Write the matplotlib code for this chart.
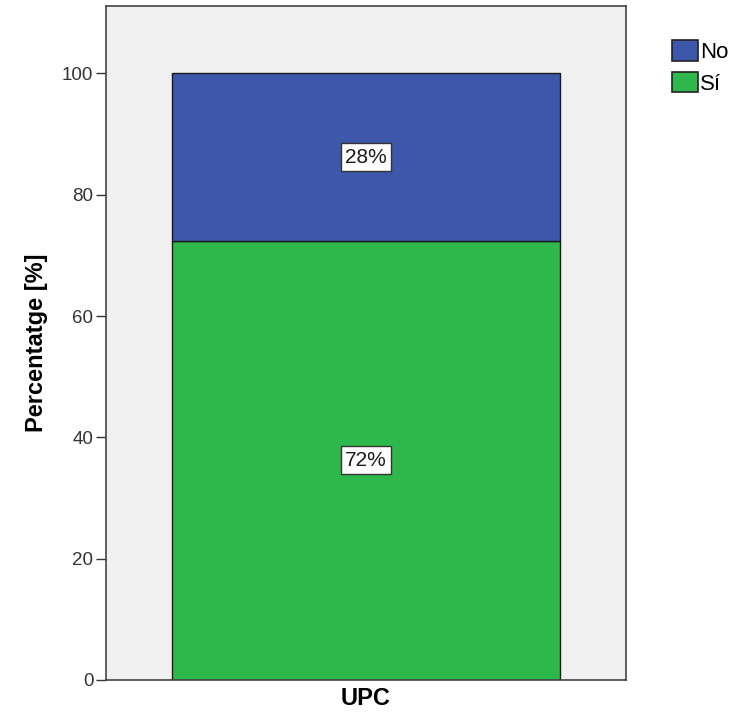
import matplotlib
matplotlib.use("Agg")
import matplotlib.pyplot as plt
from matplotlib.patches import Patch

plt.rcParams['font.family'] = ['Liberation Sans', 'DejaVu Sans']

# dades
group = ["UPC"]
categories = ["Sí", "No"]
values = [72.4, 27.6]
labels = ["72%", "28%"]
colors = ["#2EB84B", "#3D57AA"]
yticks = [0, 20, 40, 60, 80, 100]

fig = plt.figure(figsize=(7.39, 7.16), dpi=100)
ax = fig.add_axes([106 / 739, 36 / 716, 520 / 739, 674 / 716])
ax.set_facecolor("#F0F0F0")

bottom = 0
for cat, val, lab, col in zip(categories, values, labels, colors):
    ax.bar(0, val, width=1.0, bottom=bottom, color=col, edgecolor="#1a1a1a",
           linewidth=1.0, label=cat)
    ax.text(0, bottom + val / 2, lab, ha="center", va="center", fontsize=15,
            color="#1a1a1a",
            bbox=dict(boxstyle="square,pad=0.22", facecolor="white",
                      edgecolor="#333333", linewidth=1.0))
    bottom += val

ax.set_xlim(-0.67, 0.67)
ax.set_ylim(0, 111.1)
ax.set_yticks(yticks)
ax.set_yticklabels([str(t) for t in yticks], fontsize=13.5, color="#333333")
ax.set_xticks([0])
ax.set_xticklabels(group, fontsize=17, fontweight="bold")
ax.tick_params(axis="x", length=0, pad=5)
ax.tick_params(axis="y", length=7, width=1, color="#333333", direction="out", pad=2)
ax.set_ylabel("Percentatge [%]", fontsize=17, fontweight="bold", labelpad=10)

for s in ax.spines.values():
    s.set_color("#444444")
    s.set_linewidth(1.2)

handles = [Patch(facecolor=colors[1], edgecolor="#222222", linewidth=1.2),
           Patch(facecolor=colors[0], edgecolor="#222222", linewidth=1.2)]
fig.legend(handles, ["No", "Sí"], loc="upper left",
           bbox_to_anchor=(672 / 739, 1 - 40 / 716), frameon=False,
           fontsize=16, handlelength=1.15, handleheight=1.05,
           handletextpad=0.12, labelspacing=0.4, borderpad=0, borderaxespad=0)

fig.savefig("out.png", dpi=100)
